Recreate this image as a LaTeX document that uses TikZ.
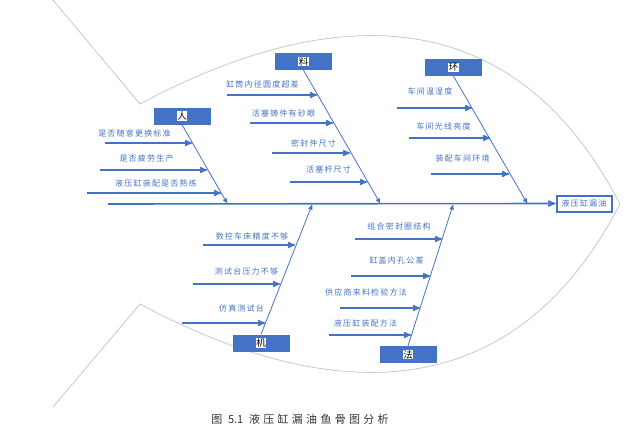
\documentclass[tikz,border=0pt]{standalone}
\usepackage{fontspec}
\usepackage{tikz}
\usetikzlibrary{arrows}
\setmainfont{Noto Sans CJK SC}
\newfontfamily\causefont[LetterSpace=15]{Noto Sans CJK SC}
\newfontfamily\capfont[LetterSpace=30]{Noto Sans CJK SC}
\definecolor{bone}{HTML}{4472C4}
\definecolor{fishline}{HTML}{C8C8C8}
\newcommand{\chip}[1]{{\setlength{\fboxsep}{0.6pt}\colorbox{white}{\color{black}#1}}}

\begin{document}
\begin{tikzpicture}[x=1pt,y=-1pt,>=stealth',
                    font=\causefont\fontsize{8}{8}\selectfont]
  \tikzstyle{cause}=[text=bone,inner sep=0pt]
  \tikzstyle{major}=[fill=bone,minimum width=57pt,minimum height=17pt,inner sep=0pt,
                     font=\fontsize{9.5}{9.5}\selectfont]
  \tikzstyle{sub}=[->,draw=bone,line width=1.5pt]
  \tikzstyle{rib}=[->,draw=bone,line width=0.8pt]

  \useasboundingbox (0,0) rectangle (633,431);

  % fish outline
  \draw[fishline,line width=0.8pt] (53,0) -- (140,104)
        .. controls (308,14) and (505,-18) .. (620,204)
        .. controls (505,426) and (308,394) .. (140,304) -- (53,407);

  % head and spine
  \node[draw=bone,line width=2pt,fill=white,text=bone,minimum width=55pt,
        minimum height=16pt,inner sep=0pt] (head) at (584,203.5) {液压缸漏油};
  \coordinate (tail) at (108,204);
  \draw[->,bone,line width=1.6pt] (tail) -- (head.west);

  % major causes
  \node[major] (ren)  at (182,116)   {\chip{人}};
  \node[major] (liao) at (303.5,61.5) {\chip{料}};
  \node[major] (huan) at (453.5,67.5) {\chip{环}};
  \node[major] (ji)   at (261,343)   {\chip{机}};
  \node[major] (fa)   at (408,354.5) {\chip{法}};

  \coordinate (renhit)  at (227,203);
  \coordinate (liaohit) at (380,203);
  \coordinate (huanhit) at (527,203);
  \coordinate (jihit)   at (312,205);
  \coordinate (fahit)   at (453,205);

  % sub causes: labels
  \node[cause] (r1) at (134.5,133) {是否随意更换标准};
  \node[cause] (r2) at (146.5,158) {是否疲劳生产};
  \node[cause] (r3) at (156,183)   {液压缸装配是否熟练};
  \node[cause] (l1) at (262.5,84)  {缸筒内径圆度超差};
  \node[cause] (l2) at (283.5,113) {活塞铸件有砂眼};
  \node[cause] (l3) at (313.5,143) {密封件尺寸};
  \node[cause] (l4) at (328.5,169) {活塞杆尺寸};
  \node[cause] (h1) at (430,91)    {车间温湿度};
  \node[cause] (h2) at (443.5,126) {车间光线亮度};
  \node[cause] (h3) at (462.5,158) {装配车间环境};
  \node[cause] (j1) at (252,236)   {数控车床精度不够};
  \node[cause] (j2) at (246.5,271) {测试台压力不够};
  \node[cause] (j3) at (241.5,308) {仿真测试台};
  \node[cause] (f1) at (399,226)   {组合密封圈结构};
  \node[cause] (f2) at (396.5,260) {缸盖内孔公差};
  \node[cause] (f3) at (366,292)   {供应商来料检验方法};
  \node[cause] (f4) at (365.5,323) {液压缸装配方法};

  % sub causes: arrow ends
  \coordinate (r1a) at (105,143); \coordinate (r1b) at (192,143);
  \coordinate (r2a) at (100,170); \coordinate (r2b) at (207,170);
  \coordinate (r3a) at (87,193);  \coordinate (r3b) at (221,193);
  \coordinate (l1a) at (227,95);  \coordinate (l1b) at (317,95);
  \coordinate (l2a) at (250,123); \coordinate (l2b) at (333,123);
  \coordinate (l3a) at (272,153); \coordinate (l3b) at (350,153);
  \coordinate (l4a) at (290,182); \coordinate (l4b) at (367,182);
  \coordinate (h1a) at (397,108); \coordinate (h1b) at (472,108);
  \coordinate (h2a) at (409,138); \coordinate (h2b) at (490,138);
  \coordinate (h3a) at (431,174); \coordinate (h3b) at (509,174);
  \coordinate (j1a) at (203,245); \coordinate (j1b) at (295,245);
  \coordinate (j2a) at (193,284); \coordinate (j2b) at (280,284);
  \coordinate (j3a) at (182,323); \coordinate (j3b) at (265,323);
  \coordinate (f1a) at (355,239); \coordinate (f1b) at (442,239);
  \coordinate (f2a) at (351,276); \coordinate (f2b) at (430,276);
  \coordinate (f3a) at (340,308); \coordinate (f3b) at (420,308);
  \coordinate (f4a) at (329,335); \coordinate (f4b) at (411,335);

  % bones
  \path (ren.south)  edge[rib] (renhit)
        (liao.south) edge[rib] (liaohit)
        (huan.south) edge[rib] (huanhit)
        (ji.north)   edge[rib] (jihit)
        (fa.north)   edge[rib] (fahit);

  \path (r1a) edge[sub] (r1b)
        (r2a) edge[sub] (r2b)
        (r3a) edge[sub] (r3b)
        (l1a) edge[sub] (l1b)
        (l2a) edge[sub] (l2b)
        (l3a) edge[sub] (l3b)
        (l4a) edge[sub] (l4b)
        (h1a) edge[sub] (h1b)
        (h2a) edge[sub] (h2b)
        (h3a) edge[sub] (h3b)
        (j1a) edge[sub] (j1b)
        (j2a) edge[sub] (j2b)
        (j3a) edge[sub] (j3b)
        (f1a) edge[sub] (f1b)
        (f2a) edge[sub] (f2b)
        (f3a) edge[sub] (f3b)
        (f4a) edge[sub] (f4b);

  % caption
  \node[text=black!80,font=\capfont\fontsize{11}{11}\selectfont] (cap) at (300,419)
        {图 {\addfontfeature{LetterSpace=0}5.1} 液压缸漏油鱼骨图分析};
\end{tikzpicture}
\end{document}
